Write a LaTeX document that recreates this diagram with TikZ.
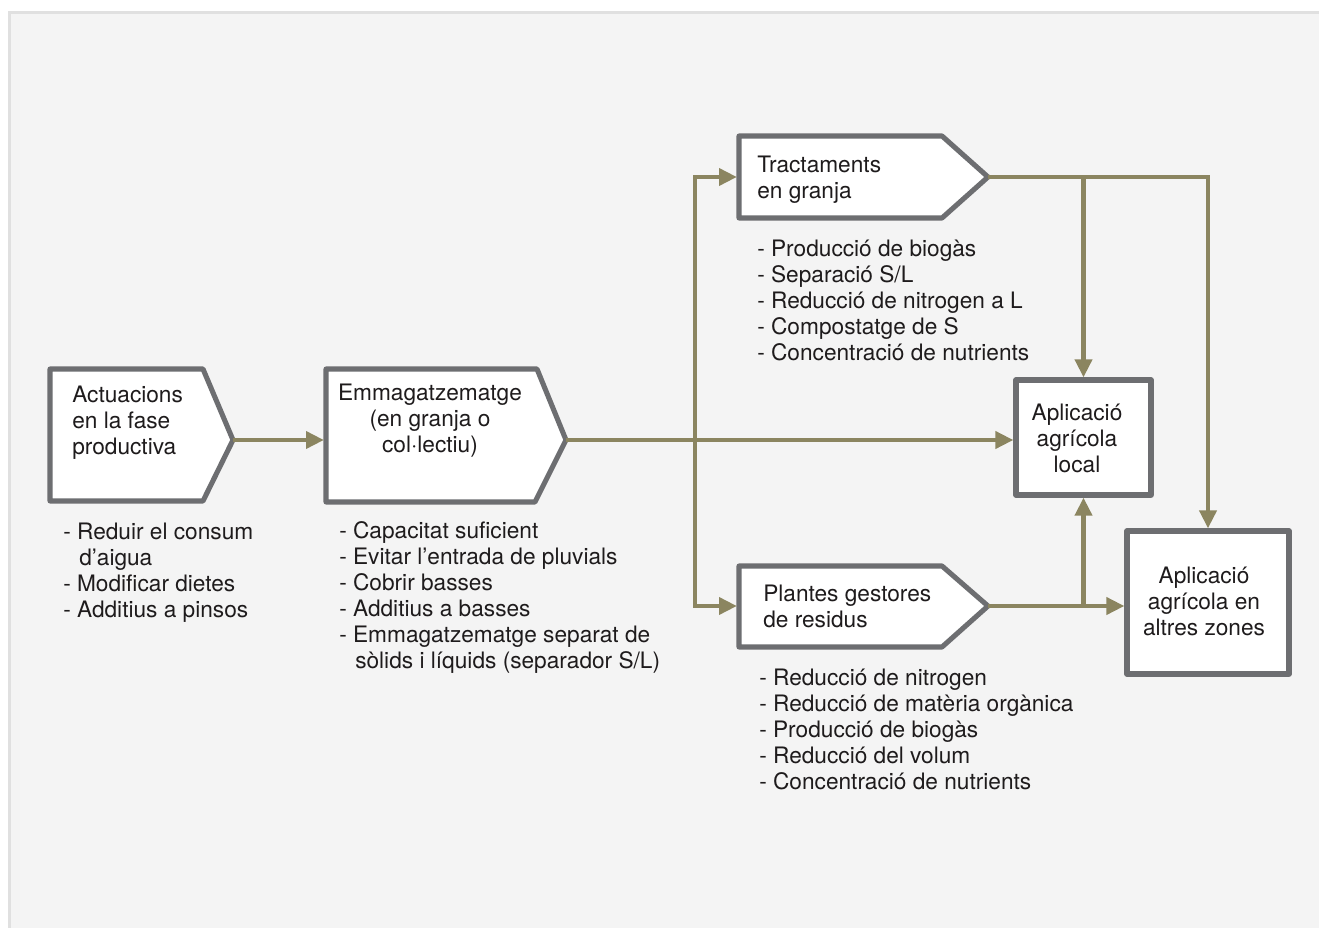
\documentclass[tikz,border=0pt]{standalone}
\usepackage{fontspec}
\setmainfont{TeX Gyre Heros}
\usetikzlibrary{arrows.meta}
\definecolor{panel}{HTML}{F4F4F4}
\definecolor{panelline}{HTML}{E0E0E0}
\definecolor{boxline}{HTML}{6D6E71}
\definecolor{flow}{HTML}{8B8560}
\definecolor{ink}{HTML}{1E1B1C}
\begin{document}
\begin{tikzpicture}[x=0.75pt,y=-0.75pt,
  box/.style={draw=boxline, line width=3.8pt, fill=white, line join=round},
  flowarrow/.style={draw=flow, line width=3.6pt, -{Triangle[length=13.5pt,width=12.5pt]}},
  txt/.style={font=\fontsize{17}{19.5}\selectfont, text=ink, inner sep=0pt}]
\useasboundingbox (0,0) rectangle (1319,927);
\clip (0,0) rectangle (1319,927);
\fill[white] (0,0) rectangle (1319,927);
\draw[fill=panel, draw=panelline, line width=2.25pt] (9.5,12.5) rectangle (1340,950);

% pentagon boxes
\draw[box] (50,369) -- (203,369) -- (233,440) -- (203,501) -- (50,501) -- cycle;
\coordinate (acttip) at (233,440);
\draw[box] (326,369) -- (537,369) -- (566,440) -- (535,502) -- (326,502) -- cycle;
\coordinate (emmw) at (324,440);
\coordinate (emmtip) at (566,440);
\draw[box] (739,136) -- (942,136) -- (988,177) -- (942,218) -- (739,218) -- cycle;
\coordinate (tractw) at (737,177);
\coordinate (tracttip) at (988,177);
\draw[box] (739,566) -- (942,566) -- (988,606) -- (942,647) -- (739,647) -- cycle;
\coordinate (plantw) at (737,606);
\coordinate (planttip) at (988,606);

% rectangular boxes
\node[box, minimum width=101.25pt, minimum height=86.25pt, inner sep=0pt] (local) at (1083.5,437.5) {};
\node[box, minimum width=121.5pt, minimum height=107.25pt, inner sep=0pt] (alt) at (1208,602.5) {};

% connectors
\coordinate (j) at (695,440);
\draw[flowarrow] (acttip) -- (emmw);
\draw[flowarrow] (emmtip) -- (emmtip -| local.west);
\draw[flowarrow] (j) |- (tractw);
\draw[flowarrow] (j) |- (plantw);
\draw[flowarrow] (tracttip) -| (alt.north);
\draw[flowarrow] (tracttip -| local.north) -- (local.north);
\draw[flowarrow] (planttip) -- (planttip -| alt.west);
\draw[flowarrow] (planttip -| local.south) -- (local.south);

% box texts
\node[txt, anchor=base west] (a1) at (72,402) {Actuacions};
\node[txt, anchor=base west] (a2) at (72,428) {en la fase};
\node[txt, anchor=base west] (a3) at (72,454) {productiva};
\node[txt, anchor=base] (e1) at (430,400) {Emmagatzematge};
\node[txt, anchor=base] (e2) at (430,426) {(en granja o};
\node[txt, anchor=base] (e3) at (430,452) {col·lectiu)};
\node[txt, anchor=base west] (t1) at (757,173) {Tractaments};
\node[txt, anchor=base west] (t2) at (757,199) {en granja};
\node[txt, anchor=base west] (p1) at (763,601) {Plantes gestores};
\node[txt, anchor=base west] (p2) at (763,627) {de residus};
\node[txt, anchor=base] (l1) at (1077,420) {Aplicació};
\node[txt, anchor=base] (l2) at (1077,446) {agrícola};
\node[txt, anchor=base] (l3) at (1077,472) {local};
\node[txt, anchor=base] (z1) at (1204,583) {Aplicació};
\node[txt, anchor=base] (z2) at (1204,609) {agrícola en};
\node[txt, anchor=base] (z3) at (1204,635) {altres zones};

% lists
\node[txt, anchor=base west] (la1) at (63,539) {- Reduir el consum};
\node[txt, anchor=base west] (la2) at (79,565) {d’aigua};
\node[txt, anchor=base west] (la3) at (63,591) {- Modificar dietes};
\node[txt, anchor=base west] (la4) at (63,617) {- Additius a pinsos};

\node[txt, anchor=base west] (le1) at (339,538) {- Capacitat suficient};
\node[txt, anchor=base west] (le2) at (339,564) {- Evitar l’entrada de pluvials};
\node[txt, anchor=base west] (le3) at (339,590) {- Cobrir basses};
\node[txt, anchor=base west] (le4) at (339,616) {- Additius a basses};
\node[txt, anchor=base west] (le5) at (339,642) {- Emmagatzematge separat de};
\node[txt, anchor=base west] (le6) at (355,668) {sòlids i líquids (separador S/L)};

\node[txt, anchor=base west] (lt1) at (757,256) {- Producció de biogàs};
\node[txt, anchor=base west] (lt2) at (757,282) {- Separació S/L};
\node[txt, anchor=base west] (lt3) at (757,308) {- Reducció de nitrogen a L};
\node[txt, anchor=base west] (lt4) at (757,334) {- Compostatge de S};
\node[txt, anchor=base west] (lt5) at (757,360) {- Concentració de nutrients};

\node[txt, anchor=base west] (lp1) at (759,685) {- Reducció de nitrogen};
\node[txt, anchor=base west] (lp2) at (759,711) {- Reducció de matèria orgànica};
\node[txt, anchor=base west] (lp3) at (759,737) {- Producció de biogàs};
\node[txt, anchor=base west] (lp4) at (759,763) {- Reducció del volum};
\node[txt, anchor=base west] (lp5) at (759,789) {- Concentració de nutrients};
\end{tikzpicture}
\end{document}
